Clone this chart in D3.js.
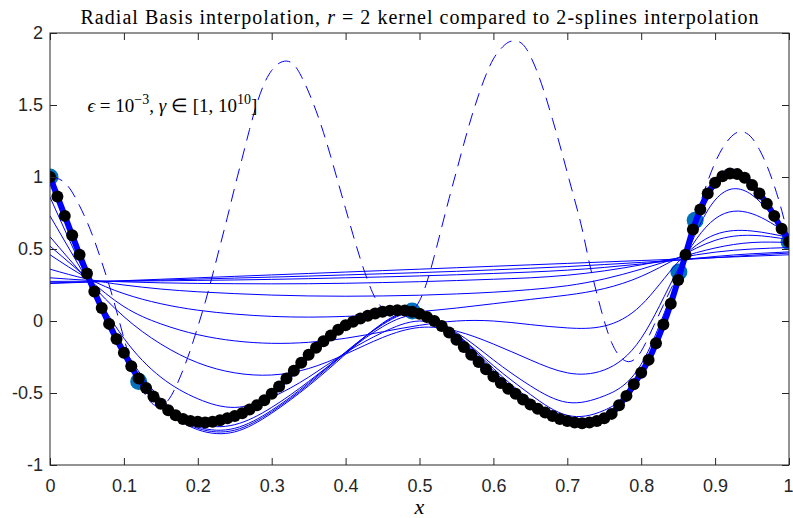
<!DOCTYPE html>
<html>
<head>
<meta charset="utf-8">
<title>Radial Basis interpolation</title>
<script src="https://d3js.org/d3.v7.min.js"></script>
<style>
body { margin: 0; background: #fff; }
</style>
</head>
<body>
<svg id="chart" width="793" height="518"></svg>
<script>
// node points (teal circles)
const nodeX = [0, 0.12, 0.49, 0.851, 0.873, 1.0];
const nodeY = [1.0, -0.42, 0.07, 0.34, 0.70, 0.55];

// fine grid, step 0.01 (black dots / thick spline / dashed curve)
const fineX = d3.range(0, 101).map(i => i / 100);
const splineY = [
  1.00, 0.865, 0.73, 0.595, 0.46, 0.33, 0.205, 0.09, -0.02, -0.125,
  -0.22, -0.315, -0.40, -0.465, -0.525, -0.575, -0.62, -0.655, -0.68, -0.695,
  -0.70, -0.705, -0.70, -0.69, -0.675, -0.66, -0.64, -0.615, -0.585, -0.55,
  -0.505, -0.455, -0.40, -0.345, -0.29, -0.235, -0.185, -0.14, -0.10, -0.06,
  -0.03, -0.005, 0.018, 0.037, 0.052, 0.064, 0.072, 0.075, 0.073, 0.065,
  0.05, 0.028, 0.0, -0.035, -0.08, -0.13, -0.18, -0.235, -0.285, -0.335,
  -0.385, -0.43, -0.47, -0.505, -0.545, -0.58, -0.61, -0.635, -0.66, -0.68,
  -0.695, -0.705, -0.71, -0.705, -0.695, -0.675, -0.645, -0.585, -0.52, -0.44,
  -0.36, -0.27, -0.155, -0.025, 0.12, 0.285, 0.46, 0.635, 0.775, 0.885,
  0.96, 1.005, 1.025, 1.02, 0.995, 0.945, 0.885, 0.815, 0.73, 0.64,
  0.55
];
const dashedY = [
  1.0, 0.99, 0.96, 0.895, 0.80, 0.69, 0.56, 0.41, 0.25, 0.07,
  -0.12, -0.29, -0.42, -0.52, -0.58, -0.59, -0.55, -0.46, -0.34, -0.2,
  -0.04, 0.13, 0.32, 0.52, 0.72, 0.93, 1.13, 1.33, 1.51, 1.65,
  1.74, 1.79, 1.805, 1.78, 1.70, 1.59, 1.46, 1.31, 1.14, 0.96,
  0.78, 0.60, 0.43, 0.28, 0.16, 0.09, 0.06, 0.05, 0.05, 0.07,
  0.14, 0.27, 0.45, 0.65, 0.85, 1.04, 1.23, 1.41, 1.57, 1.71,
  1.82, 1.89, 1.935, 1.945, 1.92, 1.84, 1.72, 1.57, 1.40, 1.22,
  1.03, 0.84, 0.64, 0.40, 0.19, 0.0, -0.15, -0.24, -0.28, -0.27,
  -0.21, -0.11, 0.0, 0.11, 0.22, 0.33, 0.49, 0.66, 0.82, 0.97,
  1.10, 1.20, 1.27, 1.31, 1.31, 1.27, 1.19, 1.08, 0.94, 0.77,
  0.57
];

// coarse grid, step 0.05 (thin curves, gamma from 1 to 1e10)
const gridX = d3.range(0, 21).map(i => i / 20);
const g1 = [0.26,0.27,0.28,0.29,0.30,0.31,0.32,0.33,0.34,0.35,0.36,0.37,0.38,0.39,0.40,0.41,0.42,0.43,0.44,0.45,0.46];
const g2 = [0.265,0.271,0.277,0.284,0.291,0.298,0.305,0.312,0.32,0.328,0.336,0.345,0.355,0.366,0.378,0.392,0.407,0.423,0.44,0.457,0.472];
const g3 = [0.275,0.276,0.277,0.279,0.282,0.285,0.289,0.294,0.30,0.306,0.313,0.321,0.33,0.34,0.353,0.372,0.396,0.423,0.448,0.467,0.48];
const g4 = [0.30,0.283,0.272,0.265,0.261,0.259,0.258,0.259,0.262,0.267,0.273,0.281,0.29,0.30,0.318,0.348,0.39,0.438,0.478,0.50,0.51];
const g5 = [0.36,0.292,0.25,0.222,0.203,0.19,0.18,0.174,0.172,0.174,0.179,0.188,0.20,0.218,0.245,0.292,0.36,0.438,0.507,0.545,0.545];
const g6 = [0.46,0.30,0.19,0.12,0.075,0.048,0.032,0.027,0.032,0.045,0.065,0.09,0.12,0.15,0.18,0.225,0.31,0.44,0.56,0.595,0.565];
const g7 = [0.52,0.30,0.10,-0.02,-0.095,-0.138,-0.155,-0.148,-0.12,-0.075,-0.03,0.0,0.0,-0.025,-0.048,-0.035,0.11,0.41,0.60,0.625,0.58];
const g8 = [0.585,0.29,0.03,-0.16,-0.29,-0.36,-0.375,-0.33,-0.23,-0.115,-0.045,-0.07,-0.16,-0.27,-0.36,-0.34,-0.12,0.36,0.71,0.745,0.60];
const g9 = [0.73,0.29,-0.12,-0.39,-0.54,-0.60,-0.53,-0.39,-0.22,-0.08,0.0,-0.08,-0.27,-0.45,-0.565,-0.52,-0.30,0.31,0.84,0.875,0.575];
const g10 = [0.86,0.30,-0.19,-0.54,-0.71,-0.72,-0.60,-0.42,-0.22,-0.04,0.04,-0.09,-0.31,-0.51,-0.655,-0.62,-0.37,0.30,0.93,0.945,0.56];
const g11 = [1.0,0.32,-0.21,-0.57,-0.735,-0.745,-0.62,-0.43,-0.215,-0.025,0.06,-0.09,-0.33,-0.545,-0.675,-0.665,-0.38,0.29,0.955,0.955,0.55];
const g12 = [1.0,0.325,-0.215,-0.58,-0.745,-0.758,-0.63,-0.44,-0.22,-0.02,0.065,-0.095,-0.345,-0.56,-0.685,-0.675,-0.385,0.29,0.965,0.96,0.55];
const g13 = [1.0,0.33,-0.22,-0.585,-0.755,-0.77,-0.64,-0.45,-0.23,-0.015,0.068,-0.10,-0.36,-0.57,-0.69,-0.68,-0.38,0.29,0.975,0.965,0.55];
const thinCurves = [g1, g2, g3, g4, g5, g6, g7, g8, g9, g10, g11, g12, g13];

const xTicks = [0, 0.1, 0.2, 0.3, 0.4, 0.5, 0.6, 0.7, 0.8, 0.9, 1];
const yTicks = [-1, -0.5, 0, 0.5, 1, 1.5, 2];

const svg = d3.select("#chart");
const LEFT = 50, RIGHT = 789, TOP = 33, BOTTOM = 465;
const AXIS_COLOR = "#262626";

const x = d3.scaleLinear().domain([0, 1]).range([LEFT, RIGHT]);
const y = d3.scaleLinear().domain([-1, 2]).range([BOTTOM, TOP]);

svg.append("clipPath").attr("id", "clip")
   .append("rect")
   .attr("x", LEFT).attr("y", TOP)
   .attr("width", RIGHT - LEFT).attr("height", BOTTOM - TOP);

const plot = svg.append("g").attr("clip-path", "url(#clip)");

// nodes first, they sit under the curves
plot.selectAll("circle.node")
    .data(d3.zip(nodeX, nodeY))
    .join("circle")
    .attr("class", "node")
    .attr("cx", d => x(d[0]))
    .attr("cy", d => y(d[1]))
    .attr("r", 8.5)
    .attr("fill", "#0072BD");

const smooth = d3.line()
                 .x(d => x(d[0]))
                 .y(d => y(d[1]))
                 .curve(d3.curveNatural);

thinCurves.forEach(c => {
    plot.append("path")
        .datum(d3.zip(gridX, c))
        .attr("fill", "none")
        .attr("stroke", "#0000ff")
        .attr("stroke-width", 1)
        .attr("d", smooth);
});

plot.append("path")
    .datum(d3.zip(fineX, dashedY))
    .attr("fill", "none")
    .attr("stroke", "#0000ff")
    .attr("stroke-width", 1)
    .attr("stroke-dasharray", "13,8")
    .attr("d", smooth);

plot.append("path")
    .datum(d3.zip(fineX, splineY))
    .attr("fill", "none")
    .attr("stroke", "#0000ff")
    .attr("stroke-width", 6)
    .attr("stroke-linejoin", "round")
    .attr("d", smooth);

plot.selectAll("circle.dot")
    .data(d3.zip(fineX, splineY))
    .join("circle")
    .attr("class", "dot")
    .attr("cx", d => x(d[0]))
    .attr("cy", d => y(d[1]))
    .attr("r", 6)
    .attr("fill", "#000");

// axes, ticks pointing inward on all four sides
const fmt = d => String(d);
const xAxis = svg.append("g")
   .attr("transform", `translate(0,${BOTTOM})`)
   .call(d3.axisBottom(x).tickValues(xTicks).tickFormat(fmt)
           .tickSizeInner(-7).tickSizeOuter(0).tickPadding(14));
svg.append("g")
   .attr("transform", `translate(${LEFT},0)`)
   .call(d3.axisLeft(y).tickValues(yTicks).tickFormat(fmt)
           .tickSizeInner(-7).tickSizeOuter(0).tickPadding(7));
svg.append("g")
   .attr("transform", `translate(0,${TOP})`)
   .call(d3.axisTop(x).tickValues(xTicks).tickFormat("")
           .tickSizeInner(-7).tickSizeOuter(0));
svg.append("g")
   .attr("transform", `translate(${RIGHT},0)`)
   .call(d3.axisRight(y).tickValues(yTicks).tickFormat("")
           .tickSizeInner(-7).tickSizeOuter(0));

svg.selectAll(".domain").remove();
svg.selectAll(".tick line").attr("stroke", AXIS_COLOR);
svg.selectAll(".tick text")
   .attr("fill", AXIS_COLOR)
   .style("font-family", "'Liberation Sans', Arial, sans-serif")
   .style("font-size", "18px");
// the last x label sits at the window edge; keep it inside
xAxis.selectAll(".tick text")
     .filter(d => d === 1)
     .attr("text-anchor", "end")
     .attr("x", 4);

svg.append("rect")
   .attr("x", LEFT).attr("y", TOP)
   .attr("width", RIGHT - LEFT).attr("height", BOTTOM - TOP)
   .attr("fill", "none")
   .attr("stroke", AXIS_COLOR)
   .attr("stroke-width", 1);

// title
const title = svg.append("text")
   .attr("x", (LEFT + RIGHT) / 2)
   .attr("y", 24)
   .attr("text-anchor", "middle")
   .attr("textLength", 678)
   .attr("lengthAdjust", "spacing")
   .style("font-family", "'Liberation Serif', 'DejaVu Serif', serif")
   .style("font-size", "20px")
   .attr("fill", "#000");
title.append("tspan").text("Radial Basis interpolation, ");
title.append("tspan").style("font-style", "italic").text("r");
title.append("tspan").text(" = 2 kernel compared to 2-splines interpolation");

// x label
svg.append("text")
   .attr("x", (LEFT + RIGHT) / 2)
   .attr("y", 514)
   .attr("text-anchor", "middle")
   .style("font-family", "'Liberation Serif', serif")
   .style("font-style", "italic")
   .style("font-size", "22px")
   .text("x");

// annotation
const note = svg.append("text")
   .attr("x", x(0.05) + 0.5)
   .attr("y", 112)
   .style("font-family", "'Liberation Serif', serif")
   .style("font-size", "19px");
note.append("tspan").style("font-style", "italic").text("\u03f5");
note.append("tspan").text(" = 10");
note.append("tspan").attr("dy", -8).style("font-size", "14px").text("\u22123");
note.append("tspan").attr("dy", 8).text(", ");
note.append("tspan").style("font-style", "italic").text("\u03b3");
note.append("tspan").text(" \u2208 [1, 10");
note.append("tspan").attr("dy", -8).style("font-size", "14px").text("10");
note.append("tspan").attr("dy", 8).text("]");
</script>
</body>
</html>
